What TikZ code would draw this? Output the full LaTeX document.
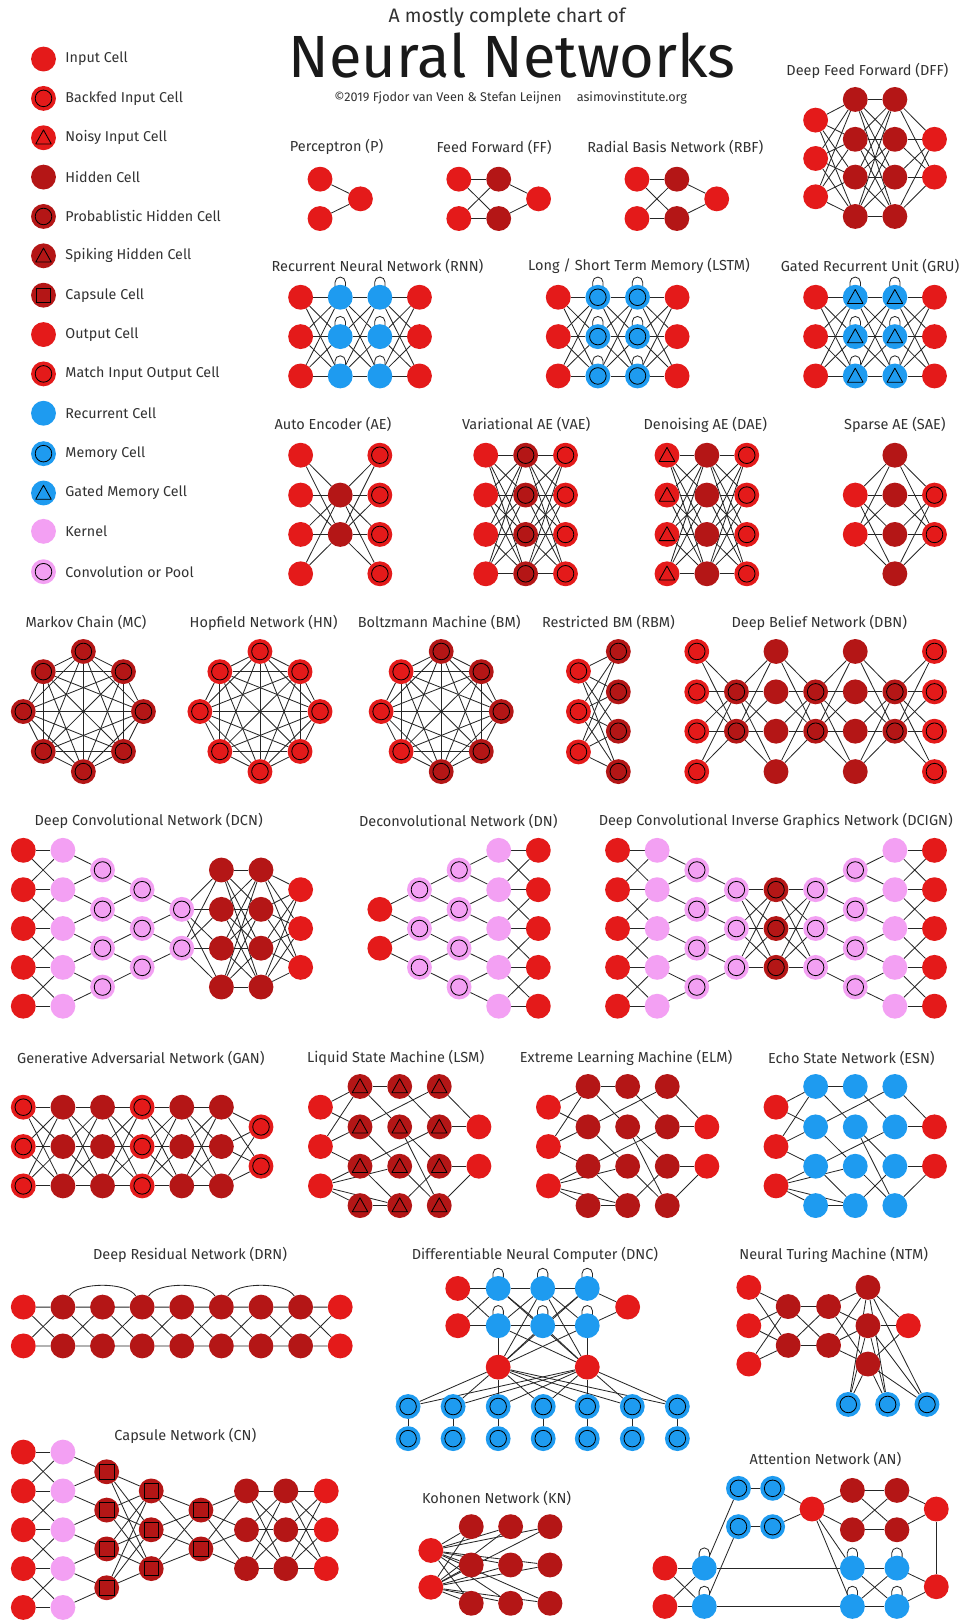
\documentclass[tikz,border=0pt]{standalone}
\usepackage{fontspec}
\setmainfont{Fira Sans}
\pgfdeclarelayer{paper}
\pgfdeclarelayer{background}
\pgfsetlayers{paper,background,main}
\definecolor{cin}{RGB}{228,26,26}
\definecolor{chid}{RGB}{180,22,22}
\definecolor{crec}{RGB}{30,155,240}
\definecolor{cker}{RGB}{243,160,243}
\definecolor{ctxt}{RGB}{50,50,50}
\tikzset{
  cell/.style={circle,minimum size=24pt,inner sep=0pt,draw=none},
  ring/.style={path picture={\draw[line width=0.8pt] (path picture bounding box.center) circle[radius=8pt];}},
  tri/.style={path picture={\draw[line width=0.8pt,line join=round]
     ([shift={(0pt,7.5pt)}]path picture bounding box.center) --
     ([shift={(-7.5pt,-6pt)}]path picture bounding box.center) --
     ([shift={(7.5pt,-6pt)}]path picture bounding box.center) -- cycle;}},
  sqr/.style={path picture={\draw[line width=0.8pt]
     ([shift={(-7pt,-7pt)}]path picture bounding box.center) rectangle
     ([shift={(7pt,7pt)}]path picture bounding box.center);}},
  cI/.style={cell,fill=cin}, cO/.style={cell,fill=cin},
  cBI/.style={cell,fill=cin,ring}, cMO/.style={cell,fill=cin,ring},
  cNI/.style={cell,fill=cin,tri},
  cH/.style={cell,fill=chid}, cPH/.style={cell,fill=chid,ring},
  cSH/.style={cell,fill=chid,tri}, cCap/.style={cell,fill=chid,sqr},
  cR/.style={cell,fill=crec}, cM/.style={cell,fill=crec,ring}, cG/.style={cell,fill=crec,tri},
  cK/.style={cell,fill=cker}, cCv/.style={cell,fill=cker,ring},
  lnk/.style={draw=black!85,line width=0.8pt},
  lbl/.style={text=ctxt,font=\fontsize{14}{16}\selectfont,inner sep=0pt},
  leg/.style={text=ctxt,font=\fontsize{13.8}{16}\selectfont,anchor=west,inner sep=0pt},
}
% layer of nodes: name, style, x, list of y
\newcommand\lay[4]{\foreach \yy [count=\kk] in {#4} {\node[#2] (#1\kk) at (#3,\yy) {};}}
% full connection
\newcommand\full[4]{\begin{pgfonlayer}{background}\foreach \ii in {1,...,#2} {\foreach \jj in {1,...,#4} {\draw[lnk] (#1\ii) -- (#3\jj);}}\end{pgfonlayer}}
% convolution: B_j to A_j and A_{j+1}
\newcommand\conv[3]{\begin{pgfonlayer}{background}\foreach \jj in {1,...,#3} {\pgfmathtruncatemacro\jn{\jj+1}\draw[lnk] (#2\jj) -- (#1\jj) (#2\jj) -- (#1\jn);}\end{pgfonlayer}}
% band: same size, i to i-1,i,i+1
\newcommand\band[3]{\begin{pgfonlayer}{background}\foreach \jj in {1,...,#3} {\draw[lnk] (#1\jj) -- (#2\jj);}
  \foreach \jj in {2,...,#3} {\pgfmathtruncatemacro\jm{\jj-1}\draw[lnk] (#1\jj) -- (#2\jm) (#1\jm) -- (#2\jj);}\end{pgfonlayer}}
\newcommand\lp[1]{\begin{pgfonlayer}{background}\draw[lnk] ([xshift=-5pt]#1.center) -- ([xshift=-5pt,yshift=14.5pt]#1.center) arc[start angle=180,end angle=0,radius=5pt] -- ([xshift=5pt]#1.center);\end{pgfonlayer}}
\newcommand\kgraph[2]{\begin{pgfonlayer}{background}\foreach \ii in {1,...,#2} {\foreach \jj in {1,...,#2} {\ifnum\ii<\jj \draw[lnk] (#1\ii) -- (#1\jj);\fi}}\end{pgfonlayer}}
\newcommand\octa[5]{%
 \node[#4] (#11) at (#2,#3-58) {};
 \node[#4] (#12) at (#2+38.7,#3-38.5) {};
 \node[#4] (#13) at (#2+58,#3) {};
 \node[#4] (#14) at (#2+38.7,#3+38.5) {};
 \node[#4] (#15) at (#2,#3+58) {};
 \node[#5] (#16) at (#2-38.7,#3+38.5) {};
 \node[#5] (#17) at (#2-58,#3) {};
 \node[#5] (#18) at (#2-38.7,#3-38.5) {};
 \kgraph{#1}{8}}
\newcommand\lsmnet[7]{%
 \lay{#1i}{cI}{#3}{1069,1107,1145}
 \lay{#1a}{#2}{#4}{1049,1088,1126,1164}
 \lay{#1b}{#2}{#5}{1049,1088,1126,1164}
 \lay{#1c}{#2}{#6}{1049,1088,1126,1164}
 \lay{#1o}{cO}{#7}{1088,1126}
 \begin{pgfonlayer}{background}
 \foreach \p/\q in {i1/a1,i1/a2,i2/a1,i2/a2,i2/a3,i3/a3,i3/a4,i3/b4,i3/b3,a1/b1,a1/b2,a2/c1,a2/b3,a3/c2,a3/b4,a4/b4,b1/c2,b2/c4,b2/c3,b3/c4,b4/c3,c1/o1,c2/o1,c3/o2,c4/o2}{\draw[lnk] (#1\p) -- (#1\q);}
 \end{pgfonlayer}}
\begin{document}
\begin{tikzpicture}[x=1pt,y=-1pt]
\begin{pgfonlayer}{paper}
\fill[white] (0,0) rectangle (930,1568);
\end{pgfonlayer}
\useasboundingbox (0,0) rectangle (930,1568);
% ---------- title
\node[text=ctxt,font=\fontsize{18.8}{20}\selectfont,inner sep=0pt] (t1) at (489.5,16.5) {A mostly complete chart of};
\node[text=black!90,font=\fontsize{57.5}{60}\selectfont,inner sep=0pt,anchor=base] (t2) at (494.5,75) {Neural Networks};
\node[text=ctxt,font=\fontsize{12.2}{14}\selectfont,inner sep=0pt] (t3) at (493,95) {©2019 Fjodor van Veen \& Stefan Leijnen\hspace{1.2em}asimovinstitute.org};
% ---------- legend
\node[cI] (lg1) at (42,57) {};   \node[leg] (lt1) at (63,57) {Input Cell};
\node[cBI] (lg2) at (42,95) {};  \node[leg] (lt2) at (63,95) {Backfed Input Cell};
\node[cNI] (lg3) at (42,133) {}; \node[leg] (lt3) at (63,133) {Noisy Input Cell};
\node[cH] (lg4) at (42,171) {};  \node[leg] (lt4) at (63,171) {Hidden Cell};
\node[cPH] (lg5) at (42,209) {}; \node[leg] (lt5) at (63,209) {Probablistic Hidden Cell};
\node[cSH] (lg6) at (42,247) {}; \node[leg] (lt6) at (63,247) {Spiking Hidden Cell};
\node[cCap] (lg7) at (42,285) {};\node[leg] (lt7) at (63,285) {Capsule Cell};
\node[cO] (lg8) at (42,323) {};  \node[leg] (lt8) at (63,323) {Output Cell};
\node[cMO] (lg9) at (42,361) {}; \node[leg] (lt9) at (63,361) {Match Input Output Cell};
\node[cR] (lg10) at (42,399) {}; \node[leg] (lt10) at (63,399) {Recurrent Cell};
\node[cM] (lg11) at (42,438) {}; \node[leg] (lt11) at (63,438) {Memory Cell};
\node[cG] (lg12) at (42,476) {}; \node[leg] (lt12) at (63,476) {Gated Memory Cell};
\node[cK] (lg13) at (42,513) {}; \node[leg] (lt13) at (63,513) {Kernel};
\node[cCv] (lg14) at (42,552) {};\node[leg] (lt14) at (63,552) {Convolution or Pool};
% ---------- P
\node[lbl] (tP) at (325,142) {Perceptron (P)};
\lay{pA}{cI}{309}{173,211}
\lay{pB}{cO}{348}{192}
\full{pA}{2}{pB}{1}
% ---------- FF
\node[lbl] (tFF) at (477,142) {Feed Forward (FF)};
\lay{ffA}{cI}{443}{173,211}
\lay{ffB}{cH}{481.5}{173,211}
\lay{ffC}{cO}{520}{192}
\full{ffA}{2}{ffB}{2}\full{ffB}{2}{ffC}{1}
% ---------- RBF
\node[lbl] (tRBF) at (652,142) {Radial Basis Network (RBF)};
\lay{rbA}{cI}{615}{173,211}
\lay{rbB}{cH}{653.5}{173,211}
\lay{rbC}{cO}{692}{192}
\full{rbA}{2}{rbB}{2}\full{rbB}{2}{rbC}{1}
% ---------- DFF
\node[lbl] (tDFF) at (837.5,68) {Deep Feed Forward (DFF)};
\lay{dfA}{cI}{787.5}{116,153,190}
\lay{dfB}{cH}{825.75}{96,134.5,171,209}
\lay{dfC}{cH}{864}{96,134.5,171,209}
\lay{dfD}{cO}{902.25}{134.5,171}
\full{dfA}{3}{dfB}{4}\full{dfB}{4}{dfC}{4}\full{dfC}{4}{dfD}{2}
% ---------- RNN
\node[lbl] (tRNN) at (364.5,257) {Recurrent Neural Network (RNN)};
\lay{rnA}{cI}{290.25}{287,325,363}
\lay{rnB}{cR}{328.5}{287,325,363}
\lay{rnC}{cR}{366.75}{287,325,363}
\lay{rnD}{cO}{405}{287,325,363}
\full{rnA}{3}{rnB}{3}\full{rnB}{3}{rnC}{3}\full{rnC}{3}{rnD}{3}
\foreach \kk in {1,2,3}{\lp{rnB\kk}\lp{rnC\kk}}
% ---------- LSTM
\node[lbl] (tLSTM) at (617,257) {Long / Short Term Memory (LSTM)};
\lay{lsA}{cI}{539}{287,325,363}
\lay{lsB}{cM}{577.25}{287,325,363}
\lay{lsC}{cM}{615.5}{287,325,363}
\lay{lsD}{cO}{653.75}{287,325,363}
\full{lsA}{3}{lsB}{3}\full{lsB}{3}{lsC}{3}\full{lsC}{3}{lsD}{3}
\foreach \kk in {1,2,3}{\lp{lsB\kk}\lp{lsC\kk}}
% ---------- GRU
\node[lbl] (tGRU) at (840,257) {Gated Recurrent Unit (GRU)};
\lay{grA}{cI}{787.5}{287,325,363}
\lay{grB}{cG}{825.75}{287,325,363}
\lay{grC}{cG}{864}{287,325,363}
\lay{grD}{cO}{902.25}{287,325,363}
\full{grA}{3}{grB}{3}\full{grB}{3}{grC}{3}\full{grC}{3}{grD}{3}
\foreach \kk in {1,2,3}{\lp{grB\kk}\lp{grC\kk}}
% ---------- AE
\node[lbl] (tAE) at (321.5,410) {Auto Encoder (AE)};
\lay{aeA}{cI}{290.25}{439.5,478,516,554}
\lay{aeB}{cH}{328.5}{478,516}
\lay{aeC}{cMO}{366.75}{439.5,478,516,554}
\full{aeA}{4}{aeB}{2}\full{aeB}{2}{aeC}{4}
% ---------- VAE
\node[lbl] (tVAE) at (508,410) {Variational AE (VAE)};
\lay{vaA}{cI}{469}{439.5,478,516,554}
\lay{vaB}{cPH}{507.5}{439.5,478,516,554}
\lay{vaC}{cMO}{546}{439.5,478,516,554}
\full{vaA}{4}{vaB}{4}\full{vaB}{4}{vaC}{4}
% ---------- DAE
\node[lbl] (tDAE) at (681,410) {Denoising AE (DAE)};
\lay{daA}{cNI}{644}{439.5,478,516,554}
\lay{daB}{cH}{682.5}{439.5,478,516,554}
\lay{daC}{cMO}{721}{439.5,478,516,554}
\full{daA}{4}{daB}{4}\full{daB}{4}{daC}{4}
% ---------- SAE
\node[lbl] (tSAE) at (864,410) {Sparse AE (SAE)};
\lay{saA}{cI}{825.75}{478,516}
\lay{saB}{cH}{864}{439.5,478,516,554}
\lay{saC}{cMO}{902.25}{478,516}
\full{saA}{2}{saB}{4}\full{saB}{4}{saC}{2}
% ---------- MC HN BM
\node[lbl] (tMC) at (83,601) {Markov Chain (MC)};
\octa{mc}{80.5}{687}{cPH}{cPH}
\node[lbl] (tHN) at (254.5,601) {Hopfield Network (HN)};
\octa{hn}{251}{687}{cBI}{cBI}
\node[lbl] (tBM) at (424,601) {Boltzmann Machine (BM)};
\octa{bm}{426}{687}{cPH}{cBI}
% ---------- RBM
\node[lbl] (tRBM) at (587.5,601) {Restricted BM (RBM)};
\lay{rmA}{cBI}{558.5}{648,687,726}
\lay{rmB}{cPH}{597}{629,668,706,745}
\full{rmA}{3}{rmB}{4}
% ---------- DBN
\node[lbl] (tDBN) at (791,601) {Deep Belief Network (DBN)};
\lay{dbA}{cBI}{672.75}{629,668,706,745}
\lay{dbB}{cPH}{711}{668,706}
\lay{dbC}{cH}{749.25}{629,668,706,745}
\lay{dbD}{cPH}{787.5}{668,706}
\lay{dbE}{cH}{825.75}{629,668,706,745}
\lay{dbF}{cPH}{864}{668,706}
\lay{dbG}{cMO}{902.25}{629,668,706,745}
\full{dbA}{4}{dbB}{2}\full{dbB}{2}{dbC}{4}\full{dbC}{4}{dbD}{2}
\full{dbD}{2}{dbE}{4}\full{dbE}{4}{dbF}{2}\full{dbF}{2}{dbG}{4}
% ---------- DCN
\node[lbl] (tDCN) at (143.5,793) {Deep Convolutional Network (DCN)};
\lay{dcA}{cI}{22.5}{821,859,896.5,934,971.5}
\lay{dcB}{cK}{60.75}{821,859,896.5,934,971.5}
\lay{dcC}{cCv}{99}{840,878,915.5,953}
\lay{dcD}{cCv}{137.25}{859,896.5,934}
\lay{dcE}{cCv}{175.5}{878,915.5}
\lay{dcF}{cH}{213.75}{840,878,915.5,953}
\lay{dcG}{cH}{252}{840,878,915.5,953}
\lay{dcH}{cO}{290.25}{859,896.5,934}
\band{dcA}{dcB}{5}\conv{dcB}{dcC}{4}\conv{dcC}{dcD}{3}\conv{dcD}{dcE}{2}
\full{dcE}{2}{dcF}{4}\full{dcF}{4}{dcG}{4}\full{dcG}{4}{dcH}{3}
% ---------- DN
\node[lbl] (tDN) at (442.5,793) {Deconvolutional Network (DN)};
\lay{dnA}{cI}{366.75}{878,915.5}
\lay{dnB}{cCv}{405}{859,896.5,934}
\lay{dnC}{cCv}{443.25}{840,878,915.5,953}
\lay{dnD}{cK}{481.5}{821,859,896.5,934,971.5}
\lay{dnE}{cO}{519.75}{821,859,896.5,934,971.5}
\conv{dnB}{dnA}{2}\conv{dnC}{dnB}{3}\conv{dnD}{dnC}{4}\band{dnD}{dnE}{5}
% ---------- DCIGN
\node[lbl] (tDCIGN) at (749,793) {Deep Convolutional Inverse Graphics Network (DCIGN)};
\lay{diA}{cI}{596.25}{821,859,896.5,934,971.5}
\lay{diB}{cK}{634.5}{821,859,896.5,934,971.5}
\lay{diC}{cCv}{672.75}{840,878,915.5,953}
\lay{diD}{cCv}{711}{859,896.5,934}
\lay{diE}{cPH}{749.25}{859,896.5,934}
\lay{diF}{cCv}{787.5}{859,896.5,934}
\lay{diG}{cCv}{825.75}{840,878,915.5,953}
\lay{diH}{cK}{864}{821,859,896.5,934,971.5}
\lay{diI}{cO}{902.25}{821,859,896.5,934,971.5}
\band{diA}{diB}{5}\conv{diB}{diC}{4}\conv{diC}{diD}{3}\full{diD}{3}{diE}{3}
\full{diE}{3}{diF}{3}\conv{diG}{diF}{3}\conv{diH}{diG}{4}\band{diH}{diI}{5}
% ---------- GAN
\node[lbl] (tGAN) at (136,1021.5) {Generative Adversarial Network (GAN)};
\lay{gaA}{cBI}{22.5}{1069,1107,1145}
\lay{gaB}{cH}{60.75}{1069,1107,1145}
\lay{gaC}{cH}{99}{1069,1107,1145}
\lay{gaD}{cMO}{137.25}{1069,1107,1145}
\lay{gaE}{cH}{175.5}{1069,1107,1145}
\lay{gaF}{cH}{213.75}{1069,1107,1145}
\lay{gaG}{cMO}{252}{1088,1126}
\full{gaA}{3}{gaB}{3}\full{gaB}{3}{gaC}{3}\full{gaC}{3}{gaD}{3}
\full{gaD}{3}{gaE}{3}\full{gaE}{3}{gaF}{3}\full{gaF}{3}{gaG}{2}
% ---------- LSM ELM ESN
\node[lbl] (tLSM) at (382,1021.5) {Liquid State Machine (LSM)};
\lsmnet{lsm}{cSH}{309.4}{347.6}{385.9}{424.1}{462.4}
\node[lbl] (tELM) at (604.5,1021.5) {Extreme Learning Machine (ELM)};
\lsmnet{elm}{cH}{529.5}{567.75}{606}{644.25}{682.5}
\node[lbl] (tESN) at (822,1021.5) {Echo State Network (ESN)};
\lsmnet{esn}{cR}{749.25}{787.5}{825.75}{864}{902.25}
% ---------- DRN
\node[lbl] (tDRN) at (183.5,1212) {Deep Residual Network (DRN)};
\node[cI] (drT1) at (22.5,1262) {};
\node[cI] (drB1) at (22.5,1299.5) {};
\foreach \kk in {2,...,8}{\node[cH] (drT\kk) at ({22.5+38.25*(\kk-1)},1262) {};
  \node[cH] (drB\kk) at ({22.5+38.25*(\kk-1)},1299.5) {};}
\node[cO] (drT9) at (328.5,1262) {};
\node[cO] (drB9) at (328.5,1299.5) {};
\begin{pgfonlayer}{background}
\foreach \kk in {1,...,8}{\pgfmathtruncatemacro\nx{\kk+1}
  \draw[lnk] (drT\kk) -- (drT\nx) (drB\kk) -- (drB\nx) (drT\kk) -- (drB\nx) (drB\kk) -- (drT\nx);}
\foreach \a/\b in {2/4,4/6,6/8}{\draw[lnk] (drT\a.60) .. controls +(8pt,14pt) and +(-8pt,14pt) .. (drT\b.120);}
\end{pgfonlayer}
% ---------- DNC
\node[lbl] (tDNC) at (516.5,1212) {Differentiable Neural Computer (DNC)};
\lay{dnI}{cI}{442}{1244,1280}
\lay{dncA}{cR}{481}{1244,1280}
\lay{dncB}{cR}{524}{1244,1280}
\lay{dncC}{cR}{567}{1244,1280}
\lay{dncO}{cO}{606}{1262}
\node[cO] (dncR1) at (481,1320) {};
\node[cO] (dncR2) at (567,1320) {};
\foreach \xx [count=\kk] in {394,437.5,481,524.5,567,610.5,654}{
  \node[cM] (dncM\kk) at (\xx,1358) {};
  \node[cM] (dncN\kk) at (\xx,1389) {};}
\full{dnI}{2}{dncA}{2}\full{dncA}{2}{dncB}{2}\full{dncB}{2}{dncC}{2}\full{dncC}{2}{dncO}{1}
\begin{pgfonlayer}{background}
\foreach \p/\q in {A2/R1,B1/R1,B2/R1,C1/R1,C2/R1,A1/R2,A2/R2,B1/R2,B2/R2,C2/R2}{\draw[lnk] (dnc\p) -- (dnc\q);}
\foreach \kk in {1,...,7}{\draw[lnk] (dncM\kk) -- (dncN\kk);}
\end{pgfonlayer}
\full{dncR}{2}{dncM}{7}
\foreach \kk in {1,2}{\lp{dncA\kk}\lp{dncB\kk}\lp{dncC\kk}}
% ---------- NTM
\node[lbl] (tNTM) at (805,1212) {Neural Turing Machine (NTM)};
\lay{ntI}{cI}{723}{1243,1280,1317}
\lay{ntA}{cH}{761}{1261.5,1299}
\lay{ntB}{cH}{800}{1261.5,1299}
\lay{ntC}{cH}{838}{1243,1280,1317}
\lay{ntO}{cO}{877}{1280}
\foreach \xx [count=\kk] in {819,857,895}{\node[cM] (ntM\kk) at (\xx,1356) {};}
\full{ntI}{3}{ntA}{2}\full{ntA}{2}{ntB}{2}\full{ntB}{2}{ntC}{3}\full{ntC}{3}{ntO}{1}\full{ntC}{3}{ntM}{3}
% ---------- CN
\node[lbl] (tCN) at (179,1386) {Capsule Network (CN)};
\lay{cnA}{cI}{22.5}{1402,1439.5,1477,1514.5,1552}
\lay{cnB}{cK}{60.75}{1402,1439.5,1477,1514.5,1552}
\lay{cnC}{cCap}{103}{1421,1458,1495.5,1533}
\lay{cnD}{cCap}{146}{1439.5,1477,1514.5}
\lay{cnE}{cCap}{194}{1458,1495.5}
\lay{cnF}{cH}{238}{1439.5,1477,1514.5}
\lay{cnG}{cH}{276}{1439.5,1477,1514.5}
\lay{cnH}{cO}{315}{1439.5,1477,1514.5}
\band{cnA}{cnB}{5}\conv{cnB}{cnC}{4}\full{cnC}{4}{cnD}{3}\full{cnD}{3}{cnE}{2}
\full{cnE}{2}{cnF}{3}\full{cnF}{3}{cnG}{3}\full{cnG}{3}{cnH}{3}
% ---------- KN
\node[lbl] (tKN) at (479.5,1447) {Kohonen Network (KN)};
\lay{knI}{cI}{416}{1497,1532.5}
\lay{knA}{cH}{455}{1474,1511,1548}
\lay{knB}{cH}{493}{1474,1511,1548}
\lay{knC}{cH}{531}{1474,1511,1548}
\full{knI}{2}{knA}{3}\full{knI}{2}{knB}{3}\full{knI}{2}{knC}{3}
% ---------- AN
\node[lbl] (tAN) at (797,1409) {Attention Network (AN)};
\node[cM] (anM1) at (713,1437) {};
\node[cM] (anM2) at (746,1437) {};
\node[cM] (anM3) at (713,1474) {};
\node[cM] (anM4) at (746,1474) {};
\node[cO] (anX) at (784,1457) {};
\node[cH] (anD1) at (823,1439) {};
\node[cH] (anD2) at (866,1439) {};
\node[cH] (anD3) at (823,1477) {};
\node[cH] (anD4) at (866,1477) {};
\node[cO] (anY) at (904,1457) {};
\node[cI] (anI1) at (642,1514) {};
\node[cI] (anI2) at (642,1551) {};
\node[cR] (anL1) at (680,1514) {};
\node[cR] (anL2) at (680,1551) {};
\node[cR] (anR1) at (823,1514) {};
\node[cR] (anR2) at (866,1514) {};
\node[cR] (anR3) at (823,1551) {};
\node[cR] (anR4) at (866,1551) {};
\node[cO] (anZ) at (904,1532) {};
\begin{pgfonlayer}{background}
\foreach \p/\q in {I1/L1,I2/L2,I1/L2,I2/L1,L1/R1,L2/R3,L1/M1,L2/M3,M1/M2,M3/M4,M2/X,M4/X,X/D1,X/D3,D1/D2,D3/D4,D1/D4,D3/D2,D2/Y,D4/Y,Y/Z,X/R1,X/R3,R1/R2,R3/R4,R1/R4,R3/R2,R2/Z,R4/Z}{\draw[lnk] (an\p) -- (an\q);}
\end{pgfonlayer}
\foreach \q in {L1,L2,R1,R2,R3,R4}{\lp{an\q}}
\end{tikzpicture}
\end{document}
